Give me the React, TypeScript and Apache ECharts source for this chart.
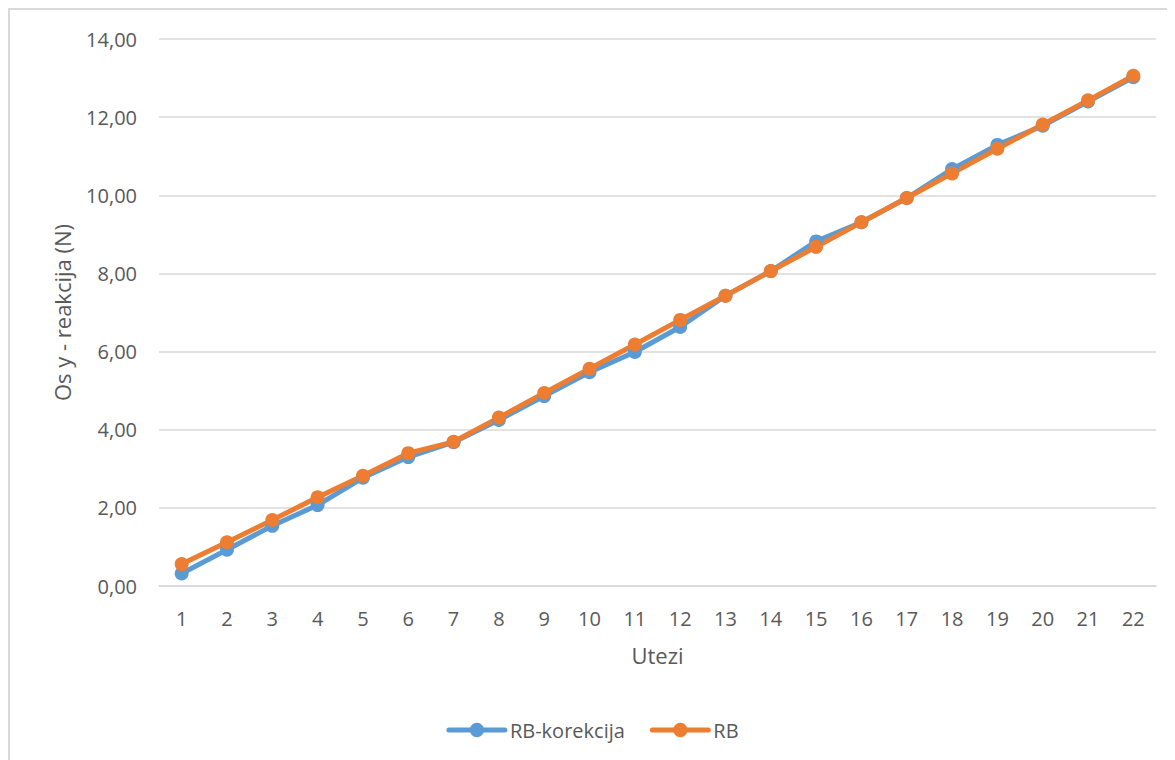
import React, { useEffect, useRef } from "react";
import * as echarts from "echarts";

const categories: string[] = [
  "1", "2", "3", "4", "5", "6", "7", "8", "9", "10", "11",
  "12", "13", "14", "15", "16", "17", "18", "19", "20", "21", "22",
];

const rbKorekcija: number[] = [
  0.32, 0.93, 1.54, 2.07, 2.77, 3.3, 3.68, 4.25, 4.86, 5.47, 5.99,
  6.63, 7.43, 8.06, 8.82, 9.31, 9.93, 10.67, 11.29, 11.78, 12.4, 13.02,
];

const rb: number[] = [
  0.56, 1.12, 1.69, 2.27, 2.82, 3.4, 3.69, 4.31, 4.94, 5.56, 6.18,
  6.81, 7.43, 8.06, 8.68, 9.31, 9.93, 10.56, 11.19, 11.81, 12.43, 13.06,
];

const seriesNames: string[] = ["RB-korekcija", "RB"];
const xAxisTitle = "Utezi";
const yAxisTitle = "Os y - reakcija (N)";

const FONT = "'Open Sans', 'Liberation Sans', sans-serif";
const TEXT = "#595959";
const GRID = "#d9d9d9";
const BLUE = "#5b9bd5";
const ORANGE = "#ed7d31";

export default function App() {
  const ref = useRef<HTMLDivElement>(null);

  useEffect(() => {
    if (!ref.current) return;
    const chart = echarts.init(ref.current, undefined, { renderer: "svg" });
    chart.setOption({
      animation: false,
      textStyle: { fontFamily: FONT, color: TEXT },
      grid: { left: 149, top: 29, width: 997, height: 547, containLabel: false },
      legend: {
        bottom: 15,
        left: "center",
        itemWidth: 56,
        itemHeight: 18,
        itemGap: 25,
        lineStyle: { width: 5, cap: "round" },
        textStyle: { fontFamily: FONT, fontSize: 20, color: TEXT },
        data: seriesNames,
      },
      xAxis: {
        type: "category",
        data: categories,
        boundaryGap: true,
        name: xAxisTitle,
        nameLocation: "middle",
        nameGap: 58,
        nameTextStyle: { fontFamily: FONT, fontSize: 22, color: TEXT },
        axisLine: { show: true, lineStyle: { color: GRID, width: 1.5 } },
        axisTick: { show: false },
        axisLabel: { margin: 22, fontFamily: FONT, fontSize: 20, color: TEXT },
      },
      yAxis: {
        type: "value",
        min: 0,
        max: 14,
        interval: 2,
        name: yAxisTitle,
        nameLocation: "middle",
        nameGap: 86,
        nameTextStyle: { fontFamily: FONT, fontSize: 22, color: TEXT },
        axisLine: { show: false },
        axisTick: { show: false },
        splitLine: { lineStyle: { color: GRID, width: 1.5 } },
        axisLabel: {
          margin: 22,
          fontFamily: FONT,
          fontSize: 20,
          color: TEXT,
          formatter: (v: number) => v.toFixed(2).replace(".", ","),
        },
      },
      series: [
        {
          name: seriesNames[0],
          type: "line",
          data: rbKorekcija,
          symbol: "circle",
          symbolSize: 14,
          lineStyle: { width: 5, color: BLUE, cap: "round", join: "round" },
          itemStyle: { color: BLUE },
        },
        {
          name: seriesNames[1],
          type: "line",
          data: rb,
          symbol: "circle",
          symbolSize: 14,
          lineStyle: { width: 5, color: ORANGE, cap: "round", join: "round" },
          itemStyle: { color: ORANGE },
        },
      ],
    });
    return () => chart.dispose();
  }, []);

  return (
    <div
      style={{
        width: 1167,
        height: 752,
        borderTop: "2px solid #d9d9d9",
        borderLeft: "2px solid #d9d9d9",
        boxSizing: "border-box",
        background: "#fff",
      }}
    >
      <div ref={ref} style={{ width: 1165, height: 750 }} />
    </div>
  );
}
